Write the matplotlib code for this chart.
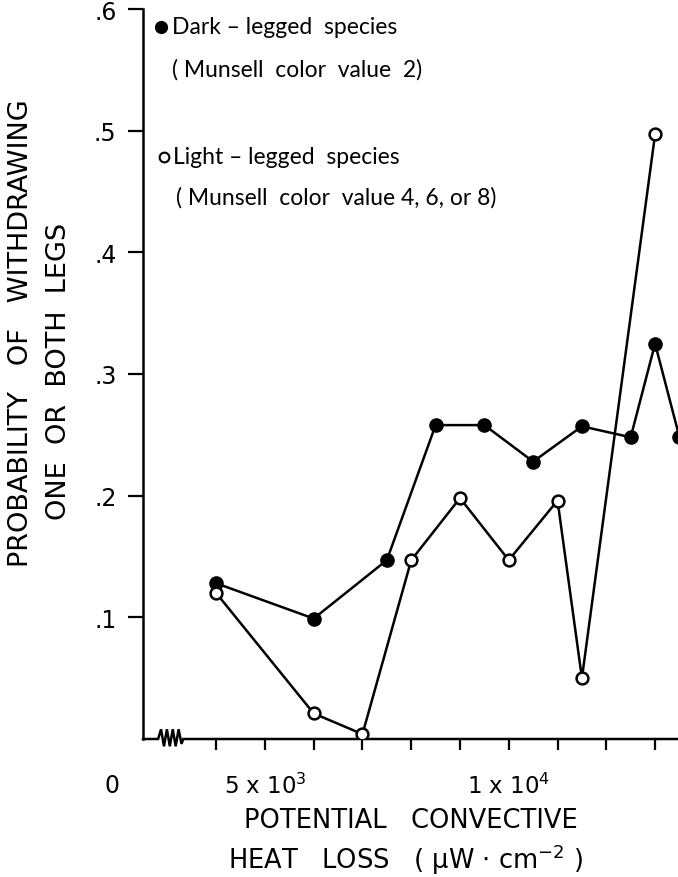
import matplotlib
matplotlib.use('Agg')
import matplotlib.pyplot as plt

# data
x_dark = [4000, 6000, 7500, 8500, 9500, 10500, 11500, 12500, 13000, 13500]
y_dark = [0.128, 0.099, 0.147, 0.258, 0.258, 0.228, 0.257, 0.248, 0.325, 0.248]
x_light = [4000, 6000, 7000, 8000, 9000, 10000, 11000, 11500, 13000]
y_light = [0.120, 0.021, 0.004, 0.147, 0.198, 0.147, 0.196, 0.050, 0.497]

x_ticks = [4000, 5000, 6000, 7000, 8000, 9000, 10000, 11000, 12000, 13000]
x_labels = {5000: '5 x 10$\\mathregular{^3}$', 10000: '1 x 10$\\mathregular{^4}$'}
y_ticks = [0.1, 0.2, 0.3, 0.4, 0.5, 0.6]
y_labels = ['.1', '.2', '.3', '.4', '.5', '.6']

plt.rcParams['font.family'] = ['DejaVu Sans']
W, H = 678, 878
fig = plt.figure(figsize=(W / 100, H / 100), dpi=100)
ax = fig.add_axes([143 / W, 138 / H, (W - 143) / W, 730 / H])
ax.set_xlim(2500, 13470)
ax.set_ylim(0, 0.6)

ax.plot(x_dark, y_dark, color='black', lw=1.8, marker='o', ms=9.5,
        mfc='black', mec='black', zorder=3)
ax.plot(x_light, y_light, color='black', lw=1.8, marker='o', ms=8.5,
        mfc='white', mec='black', mew=1.8, zorder=3)

for s in ['top', 'right', 'bottom']:
    ax.spines[s].set_visible(False)
ax.spines['left'].set_linewidth(1.8)

# bottom axis with a break symbol
bx = [2500, 2810, 2870, 2930, 2990, 3050, 3110, 3170, 3230, 3290, 3325, 13470]
by = [0, 0, 0.008, -0.006, 0.008, -0.006, 0.008, -0.006, 0.008, -0.004, 0, 0]
ax.plot(bx, by, color='black', lw=1.8, clip_on=False, solid_joinstyle='miter')

ax.set_xticks(x_ticks)
ax.set_xticklabels([''] * len(x_ticks))
ax.tick_params(axis='x', direction='out', length=8, width=1.6)
ax.set_yticks(y_ticks)
ax.set_yticklabels(y_labels, fontsize=17)
ax.tick_params(axis='y', direction='out', length=11, width=1.6, pad=8)

for xv, lab in x_labels.items():
    ax.text(xv, -0.038, lab, ha='center', va='center', fontsize=16.5)
ax.text(-0.058, -0.038, '0', transform=ax.get_yaxis_transform(), fontsize=17,
        ha='center', va='center')


def ftext(px, py, s, size=18.5, **kw):
    fig.text(px / W, 1 - py / H, s, fontsize=size, **kw)


ftext(411, 821, 'POTENTIAL   CONVECTIVE', ha='center', va='center')
ftext(405, 860, 'HEAT   LOSS   ( $\\mathregular{\\mu}$W $\\cdot$ cm$\\mathregular{^{-2}}$ )',
      ha='center', va='center')
ftext(21, 333, 'PROBABILITY   OF   WITHDRAWING', size=19.5, rotation=90,
      ha='center', va='center')
ftext(59, 371, 'ONE  OR  BOTH  LEGS', size=19.5, rotation=90, ha='center', va='center')

# legend
leg_font = ['Lato', 'DejaVu Sans']
fig.lines.append(plt.Line2D([161 / W], [1 - 28 / H], marker='o', ms=8.5, color='black',
                            transform=fig.transFigure))
fig.lines.append(plt.Line2D([164 / W], [1 - 158 / H], marker='o', ms=7, mfc='white',
                            mec='black', mew=1.5, color='black', transform=fig.transFigure))
ftext(172, 28, 'Dark – legged  species', size=16.5, family=leg_font, ha='left',
      va='center')
ftext(172, 70, '( Munsell  color  value  2)', size=16.5, family=leg_font, ha='left',
      va='center')
ftext(173, 158, 'Light – legged  species', size=16.5, family=leg_font, ha='left',
      va='center')
ftext(176, 198, '( Munsell  color  value 4, 6, or 8)', size=16.5, family=leg_font,
      ha='left', va='center')

fig.savefig('out.png', dpi=100)
